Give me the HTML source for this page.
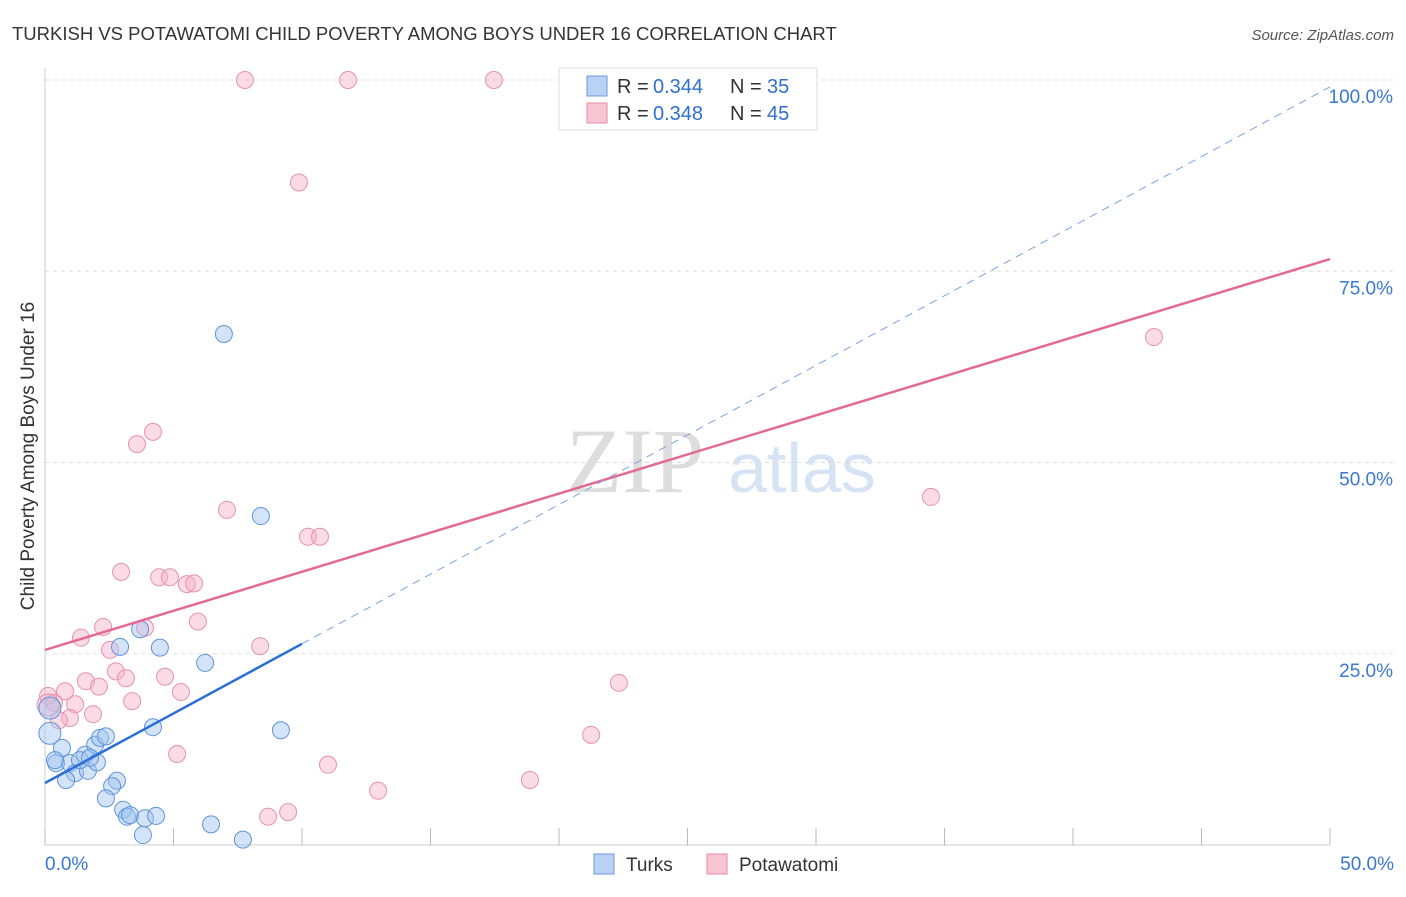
<!DOCTYPE html>
<html><head><meta charset="utf-8"><style>
body{margin:0;background:#fff;font-family:"Liberation Sans",sans-serif}
svg text{font-family:"Liberation Sans",sans-serif}
</style></head><body>
<svg id="c" width="1406" height="892" xmlns="http://www.w3.org/2000/svg">
<text x="12" y="40" font-size="18.5" fill="#333">TURKISH VS POTAWATOMI CHILD POVERTY AMONG BOYS UNDER 16 CORRELATION CHART</text>
<text x="1394" y="40" font-size="15" fill="#555" text-anchor="end" font-style="italic">Source: ZipAtlas.com</text>
<text x="0" y="0" transform="translate(34,456) rotate(-90)" font-size="19" fill="#333" text-anchor="middle">Child Poverty Among Boys Under 16</text>
<text x="635" y="492" font-size="92" fill="#ddd" font-family="Liberation Serif" text-anchor="middle" style="font-family:'Liberation Serif',serif">ZIP</text>
<text x="802" y="492" font-size="70" fill="#d6e3f5" text-anchor="middle">atlas</text>
<g id="grid"></g><g id="pts"></g><g id="lines"></g>
<g>
<rect x="559" y="68" width="258" height="62" fill="#fff" stroke="#ddd"/>
<rect x="587" y="76" width="20" height="20" fill="#b9d1f3" stroke="#6b9ae0"/>
<rect x="587" y="103" width="20" height="20" fill="#f8c5d5" stroke="#e88aa8"/>
<text x="617" y="93" font-size="20" fill="#333">R = </text><text x="653" y="93" font-size="20" fill="#2f6fd0">0.344</text>
<text x="730" y="93" font-size="20" fill="#333">N = </text><text x="767" y="93" font-size="20" fill="#2f6fd0">35</text>
<text x="617" y="120" font-size="20" fill="#333">R = </text><text x="653" y="120" font-size="20" fill="#2f6fd0">0.348</text>
<text x="730" y="120" font-size="20" fill="#333">N = </text><text x="767" y="120" font-size="20" fill="#2f6fd0">45</text>
</g>
<g>
<rect x="594" y="854" width="20" height="20" fill="#b9d1f3" stroke="#6b9ae0"/>
<text x="626" y="871" font-size="19" fill="#333">Turks</text>
<rect x="707" y="854" width="20" height="20" fill="#f8c5d5" stroke="#e88aa8"/>
<text x="739" y="871" font-size="19" fill="#333">Potawatomi</text>
</g>
</svg>
<script>
const blueX=[6.96,8.40,3.70,2.92,4.47,6.23,9.18,4.20,0.19,0.19,0.66,0.43,0.97,1.17,1.67,1.56,1.95,2.14,2.37,2.02,0.82,2.80,2.61,2.37,3.04,3.19,3.31,3.89,4.32,3.81,6.46,7.70,1.36,0.39,1.75];
const blueY=[66.8,43.0,28.2,25.9,25.8,23.8,15.0,15.4,17.9,14.6,12.7,10.7,10.7,9.4,9.7,11.8,13.1,14.0,14.2,10.8,8.5,8.4,7.7,6.1,4.6,3.7,3.9,3.5,3.8,1.3,2.7,0.7,11.1,11.1,11.4];
const pinkX=[7.78,11.79,17.47,9.88,43.15,4.2,3.58,7.08,10.23,10.7,34.47,2.96,4.44,4.86,5.52,5.8,5.95,2.26,3.89,1.4,2.53,8.37,4.67,2.76,3.15,1.59,2.1,5.29,0.78,0.12,0.35,1.17,3.39,1.87,0.97,0.54,22.33,5.14,21.25,11.01,18.87,12.96,8.68,9.46,0.12];
const pinkY=[100,100,100,86.6,66.4,54.0,52.4,43.8,40.3,40.3,45.5,35.7,35.0,35.0,34.1,34.2,29.2,28.5,28.4,27.1,25.5,26.0,22.0,22.7,21.8,21.4,20.7,20.0,20.1,19.5,18.6,18.4,18.8,17.1,16.6,16.3,21.2,11.9,14.4,10.5,8.5,7.1,3.7,4.3,18.3];
const xTicks=[0,5,10,15,20,25,30,35,40,45,50];
const yTicks=[25,50,75,100];
const X=v=>45+v/50*1285, Y=v=>845-v/100*765;
const NS="http://www.w3.org/2000/svg";
function mk(p,t,a){const e=document.createElementNS(NS,t);for(const k in a)e.setAttribute(k,a[k]);document.getElementById(p).appendChild(e);return e;}
let e=mk('grid','line',{x1:45,y1:68,x2:45,y2:845,stroke:'#ccc'});


e=mk('grid','line',{x1:45,y1:845,x2:1330,y2:845,stroke:'#ccc'});


yTicks.forEach(v=>{
 e=mk('grid','line',{x1:45,y1:Y(v),x2:1395,y2:Y(v),stroke:'#ddd','stroke-dasharray':'4,4'});
 
 
 e=mk('grid','text',{x:1393,y:Y(v)+23,'font-size':19,fill:'#3a78d4','text-anchor':'end'});
 e.textContent=v.toFixed(1)+'%';
 
 
});
xTicks.forEach(v=>{
 e=mk('grid','line',{x1:X(v),y1:828,x2:X(v),y2:845,stroke:'#bbb'});
 
 
});
e=mk('grid','text',{x:45,y:870,'font-size':19,fill:'#3a78d4'});e.textContent='0.0%';


e=mk('grid','text',{x:1394,y:870,'font-size':19,fill:'#3a78d4','text-anchor':'end'});e.textContent='50.0%';


pinkX.forEach((x,i)=>{
 e=mk('pts','circle',{cx:X(x),cy:Y(pinkY[i]),r:i==44?11:8.5,fill:'rgba(246,176,198,0.45)',stroke:'#e892ad','stroke-width':1});
 
 
});
blueX.forEach((x,i)=>{
 e=mk('pts','circle',{cx:X(x),cy:Y(blueY[i]),r:(i==8||i==9)?11:8.5,fill:'rgba(160,195,240,0.45)',stroke:'#5f93dc','stroke-width':1});
 
 
});
e=mk('lines','line',{x1:X(0),y1:Y(25.5),x2:X(50),y2:Y(76.6),stroke:'#e46a94','stroke-width':2.5});


e=mk('lines','line',{x1:X(0),y1:Y(8.1),x2:X(10),y2:Y(26.3),stroke:'#2a6fd6','stroke-width':2.5});


e=mk('lines','line',{x1:X(10),y1:Y(26.3),x2:X(50),y2:Y(99.1),stroke:'#7aa3e0','stroke-width':1,'stroke-dasharray':'8,6'});


</script>
</body></html>
